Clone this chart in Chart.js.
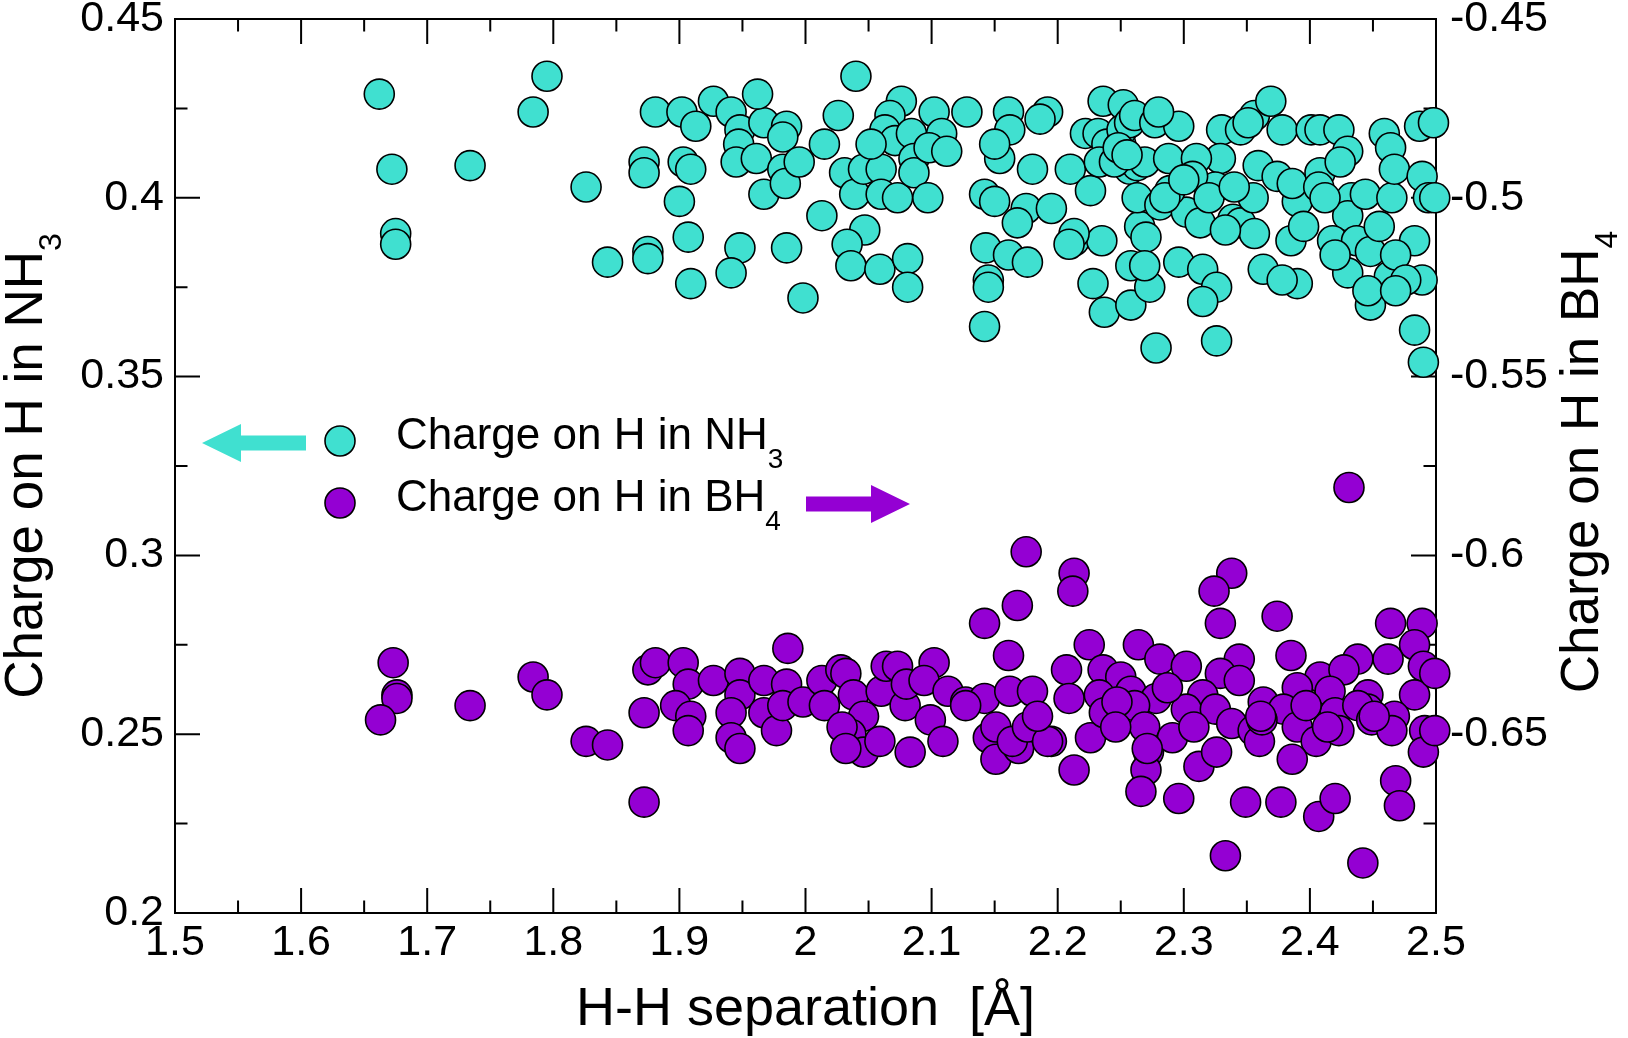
<!DOCTYPE html>
<html>
<head>
<meta charset="utf-8">
<script src="https://cdn.jsdelivr.net/npm/chart.js@4/dist/chart.umd.min.js"></script>
<style>
  body { margin: 0; background: #fff; }
  canvas { display: block; }
</style>
</head>
<body>
<canvas id="hhChart" width="1628" height="1038"></canvas>
<script>
// H-H separation (Angstrom) and charge on H in NH3 (left axis)
var nh3X = [1.662,1.672,1.675,1.675,1.734,1.795,1.784,1.826,1.843,1.872,1.872,1.875,1.875,1.881,1.902,1.913,1.903,1.909,1.900,1.907,
  1.909,1.927,1.941,1.948,1.947,1.945,1.961,1.967,1.962,1.948,1.941,1.967,1.985,1.982,1.982,1.984,1.995,1.985,1.998,2.015,
  2.026,2.040,2.031,2.039,2.046,2.060,2.013,2.047,2.033,2.036,2.059,2.076,2.067,2.063,2.071,2.084,2.052,2.060,2.073,2.081,
  2.081,2.086,2.086,2.102,2.128,2.108,2.098,2.112,2.097,2.161,2.162,2.154,2.150,2.180,2.192,2.186,2.142,2.150,2.175,2.168,
  2.195,2.143,2.161,2.176,2.145,2.145,2.142,2.222,2.236,2.232,2.252,2.239,2.250,2.251,2.257,2.261,2.210,2.226,2.233,2.257,
  2.263,2.269,2.213,2.235,2.213,2.209,2.228,2.237,2.258,2.278,2.277,2.296,2.280,2.265,2.263,2.281,2.270,2.258,2.273,2.269,
  2.302,2.313,2.289,2.296,2.315,2.326,2.315,2.326,2.330,2.329,2.325,2.288,2.310,2.307,2.339,2.345,2.356,2.333,2.355,2.359,
  2.345,2.356,2.369,2.378,2.351,2.374,2.390,2.386,2.385,2.363,2.390,2.378,2.401,2.408,2.423,2.430,2.408,2.407,2.424,2.433,
  2.430,2.444,2.418,2.437,2.448,2.463,2.430,2.420,2.448,2.446,2.459,2.464,2.465,2.467,2.487,2.489,2.494,2.483,2.489,2.483,
  2.490,2.468,2.476,2.468,2.498,2.499,2.245,2.248,2.255,2.285,2.300,2.320,2.340,2.395,2.412,2.455];
var nh3Y = [0.429,0.408,0.390,0.387,0.409,0.434,0.424,0.403,0.382,0.410,0.407,0.385,0.383,0.424,0.424,0.420,0.410,0.408,0.399,0.389,
  0.376,0.427,0.424,0.419,0.415,0.410,0.411,0.421,0.429,0.386,0.379,0.401,0.420,0.417,0.408,0.404,0.410,0.386,0.372,0.415,
  0.423,0.434,0.407,0.401,0.408,0.408,0.395,0.391,0.387,0.381,0.380,0.427,0.423,0.419,0.416,0.418,0.415,0.401,0.400,0.383,
  0.375,0.411,0.407,0.424,0.424,0.418,0.414,0.413,0.400,0.424,0.419,0.411,0.415,0.408,0.424,0.422,0.401,0.399,0.397,0.393,
  0.397,0.386,0.384,0.382,0.377,0.375,0.364,0.418,0.427,0.418,0.426,0.415,0.415,0.419,0.421,0.423,0.408,0.402,0.410,0.408,
  0.409,0.410,0.388,0.388,0.390,0.387,0.376,0.368,0.370,0.358,0.421,0.420,0.424,0.392,0.400,0.398,0.389,0.381,0.375,0.381,
  0.396,0.393,0.402,0.382,0.380,0.375,0.371,0.360,0.419,0.411,0.403,0.411,0.411,0.406,0.394,0.393,0.390,0.391,0.400,0.409,
  0.419,0.423,0.427,0.419,0.421,0.406,0.399,0.404,0.388,0.380,0.376,0.377,0.419,0.419,0.419,0.413,0.407,0.403,0.410,0.400,
  0.395,0.401,0.388,0.388,0.385,0.378,0.379,0.384,0.370,0.374,0.418,0.414,0.400,0.408,0.420,0.406,0.400,0.388,0.377,0.363,
  0.354,0.384,0.377,0.374,0.421,0.400,0.410,0.414,0.412,0.400,0.405,0.400,0.403,0.392,0.400,0.392];

// H-H separation (Angstrom) and charge on H in BH4 (right axis)
var bh4X = [1.673,1.676,1.676,1.663,1.734,1.784,1.795,1.826,1.843,1.872,1.872,1.875,1.881,1.903,1.907,1.897,1.909,1.907,1.927,1.948,
  1.948,1.941,1.941,1.948,1.967,1.967,1.977,1.985,1.986,1.982,1.998,2.013,2.015,2.028,2.032,2.038,2.046,2.036,2.046,2.059,
  2.060,2.064,2.073,2.079,2.083,2.080,2.029,2.032,2.175,2.213,2.212,2.168,2.142,2.338,2.324,2.329,2.374,2.464,2.489,2.483,
  2.161,2.225,2.264,2.281,2.302,2.344,2.385,2.438,2.462,2.490,2.102,2.207,2.236,2.250,2.329,2.344,2.408,2.427,2.390,2.094,
  2.113,2.127,2.142,2.162,2.180,2.209,2.233,2.258,2.278,2.315,2.363,2.416,2.446,2.483,2.099,2.145,2.175,2.195,2.226,2.237,
  2.261,2.269,2.302,2.325,2.338,2.355,2.379,2.390,2.420,2.446,2.467,2.491,2.405,2.423,2.360,2.109,2.151,2.169,2.213,2.272,
  2.270,2.266,2.296,2.312,2.326,2.386,2.490,2.349,2.377,2.407,2.420,2.468,2.471,2.333,2.442,2.247,2.291,2.397,2.438,2.449,
  2.465,2.362,2.431,2.499,2.499,2.127,2.151,2.164,2.176,2.192,2.184,2.246,2.271,2.287,2.308,2.361,2.414,2.451];
var bh4Y = [-0.630,-0.639,-0.640,-0.646,-0.642,-0.634,-0.639,-0.652,-0.653,-0.669,-0.644,-0.632,-0.630,-0.630,-0.636,-0.642,-0.645,-0.649,-0.635,-0.633,
  -0.639,-0.644,-0.651,-0.654,-0.635,-0.644,-0.649,-0.636,-0.626,-0.642,-0.641,-0.635,-0.642,-0.632,-0.633,-0.639,-0.645,-0.650,-0.655,-0.652,
  -0.638,-0.631,-0.631,-0.642,-0.655,-0.636,-0.648,-0.654,-0.599,-0.605,-0.610,-0.614,-0.619,-0.605,-0.610,-0.619,-0.617,-0.619,-0.619,-0.625,
  -0.628,-0.625,-0.625,-0.629,-0.631,-0.629,-0.628,-0.629,-0.629,-0.631,-0.630,-0.632,-0.632,-0.634,-0.633,-0.635,-0.634,-0.632,-0.637,-0.635,
  -0.638,-0.641,-0.640,-0.638,-0.638,-0.640,-0.639,-0.638,-0.640,-0.639,-0.641,-0.638,-0.639,-0.639,-0.646,-0.651,-0.650,-0.652,-0.651,-0.644,
  -0.642,-0.648,-0.643,-0.643,-0.647,-0.649,-0.643,-0.648,-0.644,-0.643,-0.645,-0.649,-0.652,-0.649,-0.652,-0.652,-0.657,-0.654,-0.660,-0.655,
  -0.660,-0.666,-0.668,-0.659,-0.655,-0.657,-0.655,-0.669,-0.669,-0.673,-0.668,-0.663,-0.670,-0.684,-0.686,-0.641,-0.651,-0.642,-0.642,-0.646,
  -0.649,-0.646,-0.581,-0.633,-0.649,-0.642,-0.648,-0.652,-0.648,-0.652,-0.645,-0.648,-0.654,-0.637,-0.648,-0.645,-0.648,-0.645];

var xTickVals = [1.5, 1.6, 1.7, 1.8, 1.9, 2.0, 2.1, 2.2, 2.3, 2.4, 2.5];
var yTickVals = [0.2, 0.25, 0.3, 0.35, 0.4, 0.45];
var y2TickVals = [-0.65, -0.6, -0.55, -0.5, -0.45];

var seriesNames = ["Charge on H in NH", "Charge on H in BH"];
var seriesSubs = ["3", "4"];
var xTitle = "H-H separation  [\u00c5]";

var cyan = "#40e0d0";
var violet = "#9400d3";
var FONT = "'Liberation Sans', Arial, Helvetica, sans-serif";

function tickText(v) { return String(Number(v.toFixed(3))); }
function toPoints(xs, ys) { return xs.map(function (x, i) { return {x: x, y: ys[i]}; }); }
function fixTicks(vals) { return function (s) { s.ticks = vals.map(function (v) { return {value: v}; }); }; }

function textWithSub(ctx, main, sub, cx, baseY, size, subSize, drop) {
  ctx.font = size + "px " + FONT;
  var wm = ctx.measureText(main).width;
  ctx.font = subSize + "px " + FONT;
  var ws = ctx.measureText(sub).width;
  var start = cx - (wm + ws) / 2;
  ctx.font = size + "px " + FONT;
  ctx.fillText(main, start, baseY);
  ctx.font = subSize + "px " + FONT;
  ctx.fillText(sub, start + wm, baseY + drop);
}

function arrow(ctx, tail, tip, y, color) {
  var dir = tip > tail ? 1 : -1, head = 39, hw = 19, sw = 7.5;
  ctx.fillStyle = color;
  ctx.beginPath();
  ctx.moveTo(tail, y - sw);
  ctx.lineTo(tip - dir * head, y - sw);
  ctx.lineTo(tip - dir * head, y - hw);
  ctx.lineTo(tip, y);
  ctx.lineTo(tip - dir * head, y + hw);
  ctx.lineTo(tip - dir * head, y + sw);
  ctx.lineTo(tail, y + sw);
  ctx.closePath();
  ctx.fill();
}

// frame with inward major/minor ticks on all four sides
var frameTicks = {
  id: "frameTicks",
  beforeDatasetsDraw: function (chart) {
    var ctx = chart.ctx, a = chart.chartArea, sx = chart.scales.x, sy = chart.scales.y;
    ctx.save();
    ctx.strokeStyle = "#000";
    ctx.lineWidth = 2;
    ctx.beginPath();
    xTickVals.forEach(function (v, i) {
      var marks = [[v, 25]];
      if (i > 0) marks.push([(v + xTickVals[i - 1]) / 2, 12.5]);
      marks.forEach(function (m) {
        var px = sx.getPixelForValue(m[0]);
        ctx.moveTo(px, a.bottom); ctx.lineTo(px, a.bottom - m[1]);
        ctx.moveTo(px, a.top); ctx.lineTo(px, a.top + m[1]);
      });
    });
    yTickVals.forEach(function (v, i) {
      var marks = [[v, 25]];
      if (i > 0) marks.push([(v + yTickVals[i - 1]) / 2, 12.5]);
      marks.forEach(function (m) {
        var py = sy.getPixelForValue(m[0]);
        ctx.moveTo(a.left, py); ctx.lineTo(a.left + m[1], py);
        ctx.moveTo(a.right, py); ctx.lineTo(a.right - m[1], py);
      });
    });
    ctx.stroke();
    ctx.strokeRect(a.left, a.top, a.right - a.left, a.bottom - a.top);
    ctx.restore();
  },
  afterDraw: function (chart) {
    var ctx = chart.ctx, a = chart.chartArea;
    var midY = (a.top + a.bottom) / 2;
    ctx.save();
    ctx.fillStyle = "#000";
    ctx.textBaseline = "alphabetic";
    // x title
    ctx.font = "54px " + FONT;
    ctx.textAlign = "center";
    ctx.fillText(xTitle, (a.left + a.right) / 2, 1025);
    ctx.textAlign = "left";
    // left title
    ctx.save();
    ctx.translate(42, 0);
    ctx.rotate(-Math.PI / 2);
    textWithSub(ctx, seriesNames[0], seriesSubs[0], -midY, 0, 53, 32, 19);
    ctx.restore();
    // right title
    ctx.save();
    ctx.translate(1598, 0);
    ctx.rotate(-Math.PI / 2);
    textWithSub(ctx, seriesNames[1], seriesSubs[1], -(midY - 4), 0, 53, 32, 19);
    ctx.restore();
    // legend
    var rows = [[cyan, 441, 449], [violet, 503, 511]];
    rows.forEach(function (r, i) {
      ctx.beginPath();
      ctx.arc(340, r[1], 15, 0, Math.PI * 2);
      ctx.fillStyle = r[0];
      ctx.fill();
      ctx.lineWidth = 1.6;
      ctx.strokeStyle = "#000";
      ctx.stroke();
      ctx.fillStyle = "#000";
      ctx.font = "44px " + FONT;
      ctx.fillText(seriesNames[i], 396, r[2]);
      var w = ctx.measureText(seriesNames[i]).width;
      ctx.font = "28px " + FONT;
      ctx.fillText(seriesSubs[i], 396 + w, r[2] + 19);
    });
    arrow(ctx, 306, 202, 443, cyan);
    arrow(ctx, 806, 910, 504, violet);
    ctx.restore();
  }
};

var tickFont = {family: FONT, size: 43, lineHeight: 1.2};

new Chart(document.getElementById("hhChart"), {
  type: "scatter",
  data: {
    datasets: [{
      label: "NH3",
      data: toPoints(nh3X, nh3Y),
      yAxisID: "y",
      backgroundColor: cyan,
      borderColor: "#000",
      borderWidth: 1.6,
      pointRadius: 15,
      pointHoverRadius: 15,
      clip: false
    }, {
      label: "BH4",
      data: toPoints(bh4X, bh4Y),
      yAxisID: "y2",
      backgroundColor: violet,
      borderColor: "#000",
      borderWidth: 1.6,
      pointRadius: 15,
      pointHoverRadius: 15,
      clip: false
    }]
  },
  options: {
    responsive: false,
    devicePixelRatio: 1,
    animation: false,
    events: [],
    layout: {padding: {top: 19, left: 0, right: 0, bottom: 0}},
    plugins: {legend: {display: false}, tooltip: {enabled: false}},
    scales: {
      x: {
        type: "linear", position: "bottom", min: 1.5, max: 2.5,
        afterBuildTicks: fixTicks(xTickVals),
        afterFit: function (s) { s.height = 125; s.paddingLeft = 0; s.paddingRight = 0; },
        grid: {display: false, drawTicks: false},
        border: {display: false},
        ticks: {font: tickFont, color: "#000", padding: 4, maxRotation: 0, autoSkip: false, callback: tickText}
      },
      y: {
        type: "linear", position: "left", min: 0.2, max: 0.45,
        afterBuildTicks: fixTicks(yTickVals),
        afterFit: function (s) { s.width = 175; s.paddingTop = 0; s.paddingBottom = 0; },
        grid: {display: false, drawTicks: false},
        border: {display: false},
        ticks: {font: tickFont, color: "#000", padding: 11, autoSkip: false, callback: tickText}
      },
      y2: {
        type: "linear", position: "right", min: -0.7, max: -0.45,
        afterBuildTicks: fixTicks(y2TickVals),
        afterFit: function (s) { s.width = 192; s.paddingTop = 0; s.paddingBottom = 0; },
        grid: {display: false, drawTicks: false},
        border: {display: false},
        ticks: {font: tickFont, color: "#000", padding: 14, autoSkip: false, callback: tickText}
      }
    }
  },
  plugins: [frameTicks]
});
</script>
</body>
</html>
